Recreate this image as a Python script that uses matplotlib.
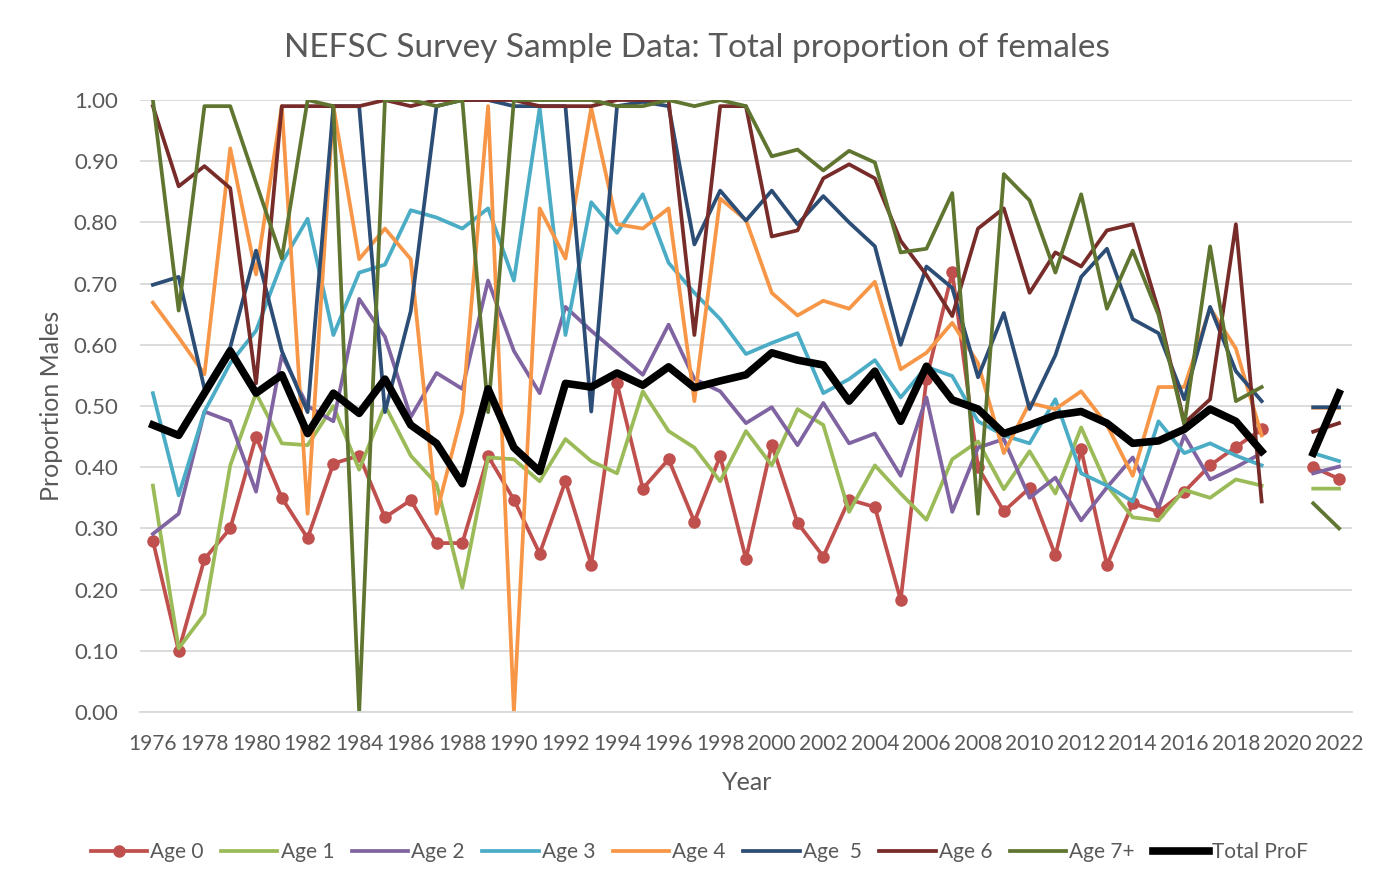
import numpy as np
import matplotlib.pyplot as plt

# Survey years (no sampling in 2020)
years = np.arange(1976, 2023)

nan = np.nan
age0 = [0.28, 0.10, 0.25, 0.30, 0.45, 0.35, 0.284, 0.406, 0.419, 0.318, 0.346, 0.276, 0.276, 0.418, 0.347, 0.259,
        0.377, 0.241, 0.537, 0.365, 0.413, 0.311, 0.418, 0.250, 0.437, 0.309, 0.254, 0.347, 0.335, 0.183, 0.544,
        0.719, 0.40, 0.328, 0.366, 0.256, 0.429, 0.240, 0.341, 0.327, 0.36, 0.403, 0.433, 0.462, nan, 0.40, 0.381]
age1 = [0.37, 0.104, 0.16, 0.403, 0.521, 0.439, 0.436, 0.50, 0.396, 0.501, 0.419, 0.373, 0.203, 0.416, 0.413, 0.377,
        0.446, 0.41, 0.39, 0.524, 0.459, 0.432, 0.377, 0.459, 0.403, 0.495, 0.469, 0.327, 0.403, 0.357, 0.314,
        0.413, 0.442, 0.364, 0.426, 0.357, 0.465, 0.37, 0.318, 0.313, 0.363, 0.35, 0.38, 0.37, nan, 0.365, 0.365]
age2 = [0.291, 0.324, 0.491, 0.475, 0.36, 0.583, 0.50, 0.475, 0.675, 0.613, 0.482, 0.554, 0.528, 0.705, 0.59, 0.521,
        0.662, 0.623, 0.587, 0.551, 0.633, 0.544, 0.524, 0.472, 0.498, 0.436, 0.505, 0.439, 0.455, 0.386, 0.514,
        0.327, 0.432, 0.446, 0.35, 0.383, 0.313, 0.367, 0.416, 0.334, 0.452, 0.38, 0.40, 0.423, nan, 0.39, 0.401]
age3 = [0.521, 0.354, 0.491, 0.57, 0.623, 0.734, 0.806, 0.616, 0.718, 0.731, 0.82, 0.808, 0.79, 0.823, 0.705, 0.987,
        0.616, 0.833, 0.783, 0.846, 0.734, 0.685, 0.642, 0.585, 0.603, 0.619, 0.521, 0.544, 0.575, 0.514, 0.564,
        0.549, 0.475, 0.452, 0.439, 0.511, 0.39, 0.37, 0.344, 0.475, 0.423, 0.439, 0.419, 0.403, nan, 0.423, 0.41]
age4 = [0.669, 0.612, 0.552, 0.921, 0.715, 0.99, 0.324, 0.99, 0.74, 0.79, 0.74, 0.324, 0.49, 0.99, 0.0, 0.823,
        0.741, 0.987, 0.797, 0.79, 0.823, 0.508, 0.839, 0.804, 0.685, 0.648, 0.672, 0.659, 0.703, 0.56, 0.587,
        0.636, 0.57, 0.423, 0.505, 0.495, 0.524, 0.469, 0.386, 0.531, 0.531, 0.66, 0.594, 0.452, nan, 0.497, 0.497]
age5 = [0.698, 0.711, 0.528, 0.596, 0.754, 0.59, 0.49, 0.99, 0.99, 0.49, 0.655, 0.99, 1.0, 1.0, 0.99, 0.99,
        0.99, 0.491, 0.99, 0.997, 0.99, 0.764, 0.852, 0.803, 0.852, 0.797, 0.843, 0.80, 0.761, 0.60, 0.728,
        0.693, 0.547, 0.652, 0.495, 0.583, 0.711, 0.757, 0.642, 0.619, 0.511, 0.662, 0.557, 0.508, nan, 0.498, 0.498]
age6 = [0.99, 0.859, 0.892, 0.856, 0.537, 0.99, 0.99, 0.99, 0.99, 1.0, 0.99, 1.0, 1.0, 1.0, 1.0, 0.99,
        0.99, 0.99, 1.0, 1.0, 1.0, 0.616, 0.99, 0.99, 0.777, 0.787, 0.872, 0.895, 0.872, 0.77, 0.714,
        0.647, 0.79, 0.823, 0.685, 0.751, 0.728, 0.787, 0.797, 0.656, 0.472, 0.511, 0.797, 0.344, nan, 0.458, 0.472]
age7 = [1.0, 0.656, 0.99, 0.99, 0.865, 0.741, 1.0, 0.99, 0.0, 1.0, 1.0, 0.99, 1.0, 0.49, 1.0, 1.0,
        1.0, 1.0, 0.99, 0.99, 1.0, 0.99, 1.0, 0.99, 0.908, 0.919, 0.885, 0.917, 0.898, 0.751, 0.757,
        0.848, 0.324, 0.879, 0.836, 0.718, 0.846, 0.659, 0.754, 0.649, 0.469, 0.761, 0.508, 0.531, nan, 0.341, 0.30]
total = [0.469, 0.452, 0.521, 0.59, 0.521, 0.551, 0.455, 0.521, 0.488, 0.544, 0.469, 0.439, 0.373, 0.528, 0.432, 0.393,
         0.537, 0.531, 0.554, 0.534, 0.564, 0.530, 0.541, 0.551, 0.587, 0.575, 0.567, 0.508, 0.557, 0.475, 0.565,
         0.510, 0.495, 0.455, 0.469, 0.485, 0.491, 0.472, 0.439, 0.443, 0.462, 0.495, 0.475, 0.426, nan, 0.423, 0.521]

series = [
    ("Age 0", age0, "#C0504D"),
    ("Age 1", age1, "#9BBB59"),
    ("Age 2", age2, "#8064A2"),
    ("Age 3", age3, "#4BACC6"),
    ("Age 4", age4, "#F79646"),
    ("Age  5", age5, "#2C4D75"),
    ("Age 6", age6, "#772C2A"),
    ("Age 7+", age7, "#5F7530"),
]

plt.rcParams["font.family"] = ["Lato", "DejaVu Sans"]
grey = "#595959"

fig = plt.figure(figsize=(13.93, 8.90), dpi=100)
ax = fig.add_axes([0.1005, 0.2, 0.870, 0.6876])

for name, vals, col in series:
    if name == "Age 0":
        ax.plot(years, vals, color=col, lw=2.7, marker="o", markersize=8, label=name)
    else:
        ax.plot(years, vals, color=col, lw=2.7, label=name)
ax.plot(years, total, color="black", lw=5.5, label="Total ProF")

ax.set_xlim(1975.5, 2022.5)
ax.set_ylim(0, 1)
ax.set_xticks(np.arange(1976, 2023, 2))
ax.set_yticks(np.arange(0, 1.01, 0.1))
ax.set_yticklabels([f"{v:.2f}" for v in np.arange(0, 1.01, 0.1)])
ax.tick_params(axis="both", length=0, colors=grey)
ax.tick_params(axis="y", pad=16, labelsize=16)
ax.tick_params(axis="x", pad=16, labelsize=15)
ax.grid(axis="y", color="#D9D9D9", lw=1.3)
ax.set_axisbelow(True)
for s in ["top", "right", "left"]:
    ax.spines[s].set_visible(False)
ax.spines["bottom"].set_color("#D9D9D9")
ax.spines["bottom"].set_linewidth(1.3)

fig.text(0.5, 1 - 57 / 890, "NEFSC Survey Sample Data: Total proportion of females",
         fontsize=24, color=grey, ha="center", va="baseline")
fig.text(747 / 1393, 1 - 782 / 890, "Year", fontsize=18, color=grey, ha="center", va="center")
fig.text(52 / 1393, 1 - 406 / 890, "Proportion Males", fontsize=18, color=grey,
         ha="center", va="center", rotation=90)

fig.legend(loc="center", bbox_to_anchor=(0.502, 0.0427), ncol=9, frameon=False, fontsize=15,
           handlelength=2.7, handletextpad=0.15, columnspacing=0.85, labelcolor=grey)

fig.savefig("out.png", dpi=100)
